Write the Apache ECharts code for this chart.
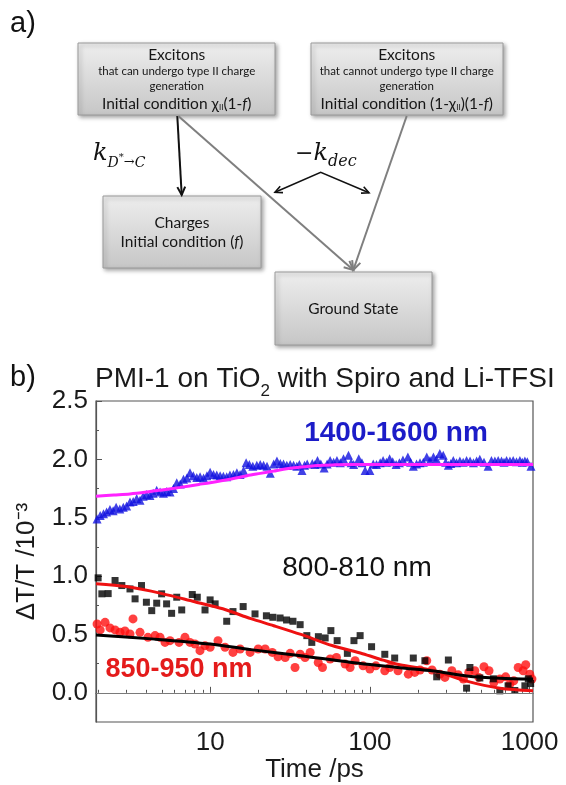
<!DOCTYPE html>
<html><head><meta charset="utf-8">
<script src="https://cdn.jsdelivr.net/npm/echarts@6/dist/echarts.min.js"></script>
<style>html,body{margin:0;padding:0;background:#fff}#c{width:566px;height:785px}</style>
</head><body><div id="c"></div>
<script>
// ---------------- DATA ----------------
const xTickLabels = [10, 100, 1000];
const xMinorTicks = [2,3,4,5,6,7,8,9,20,30,40,50,60,70,80,90,200,300,400,500,600,700,800,900];
const yTickLabels = [0, 0.5, 1.0, 1.5, 2.0, 2.5];
const yMinorTicks = [0.25, 0.75, 1.25, 1.75, 2.25];

// 1400-1600 nm (blue triangles)
const blueT = [1.96,2.05,2.15,2.25,2.36,2.47,2.58,2.72,2.86,3.0,3.15,3.3,3.47,3.64,3.81,4.0,4.2,4.4,4.63,4.86,5.1,5.35,5.61,5.9,6.18,6.5,6.81,7.15,7.48,7.85,8.25,8.65,9.1,9.55,10.0,10.5,11.0,11.55,12.1,12.7,13.3,14.0,14.7,15.4,16.2,16.8,17.6,18.5,19.6,20.6,21.6,22.7,23.8,25.0,26.2,27.5,28.8,30.2,31.7,33.3,34.9,36.2,37.6,39.0,40.5,43.6,45.3,47.0,49.3,51.7,54.0,56.4,59.3,62.2,65.3,68.4,73.5,76.3,79.1,85.2,89.2,93.4,100,105,110,116,121,127,133,139,146,153,161,173,180,187,196,206,216,227,238,250,261,274,288,298,310,321,333,349,366,384,403,424,445,466,488,518,550,577,606,636,667,691,717,753,789,828,869,900,934,967,1020];
const blueV = [1.49,1.52,1.535,1.55,1.57,1.56,1.59,1.575,1.59,1.6,1.635,1.64,1.665,1.65,1.685,1.70,1.69,1.71,1.735,1.72,1.71,1.725,1.72,1.75,1.80,1.79,1.83,1.84,1.885,1.86,1.845,1.85,1.84,1.86,1.89,1.87,1.865,1.86,1.855,1.85,1.865,1.87,1.885,1.87,1.905,1.97,1.955,1.94,1.95,1.955,1.95,1.94,1.88,1.96,1.985,1.965,1.96,1.95,1.955,1.95,1.94,1.955,1.905,1.95,1.96,1.965,1.955,1.99,1.96,1.925,1.96,1.99,1.975,1.99,1.97,2.005,2.035,1.97,1.955,2.005,1.97,1.905,1.905,1.96,1.955,1.97,1.99,1.975,2.005,1.98,1.955,1.97,1.995,2.02,1.975,1.94,1.96,1.97,1.975,2.02,1.99,2.02,2.0,2.05,2.035,1.975,1.95,1.965,1.99,1.97,1.985,1.975,1.99,1.985,1.97,1.985,2.0,1.975,1.94,1.99,1.985,1.99,1.985,1.975,1.99,1.985,1.99,1.98,1.99,1.975,1.985,1.98,1.94];
// fit (magenta)
const magFitT = [1.93,2.5,3.15,4,5,6.5,8.5,10,13.3,17,20.6,25,28.8,35,47,60,80,120,200,400,700,1050];
const magFitV = [1.685,1.695,1.704,1.72,1.738,1.76,1.785,1.80,1.83,1.86,1.88,1.90,1.915,1.93,1.948,1.953,1.955,1.955,1.955,1.955,1.955,1.955];

// 800-810 nm (black squares)
const sqT = [1.99,2.10,2.30,2.54,2.80,3.15,3.39,3.72,3.99,4.31,4.63,4.97,5.34,5.74,6.18,6.64,7.73,8.31,9.29,10.0,10.75,12.7,13.9,16.1,19.1,22.5,24.7,27.4,30.1,33.0,36.6,40.3,43.3,47.6,52.5,57.0,62.4,72.3,79.5,86.9,102.5,124,143,187,221,262,310,403,423,488,593,651,733,808,934,981,1015];
const sqV = [0.985,0.848,0.85,0.962,0.919,0.89,0.805,0.919,0.776,0.704,0.768,0.848,0.762,0.681,0.819,0.71,0.842,0.819,0.71,0.796,0.762,0.613,0.696,0.739,0.676,0.66,0.647,0.641,0.624,0.613,0.584,0.49,0.432,0.481,0.47,0.533,0.447,0.338,0.447,0.49,0.395,0.33,0.298,0.298,0.275,0.137,0.281,0.04,0.217,0.127,0.12,0.017,0.06,0.02,0.06,0.12,0.08];
// fit (red line)
const redFitT = [1.93,3,5,8,12,18,25,37,58,90,121,154,250,403,651,1050];
const redFitV = [0.935,0.91,0.85,0.78,0.72,0.635,0.575,0.5,0.405,0.335,0.28,0.24,0.19,0.10,0.04,0.018];

// 850-950 nm (red circles)
const cirT = [1.96,2.05,2.20,2.36,2.54,2.73,2.93,3.15,3.29,3.64,4.08,4.52,4.86,5.22,5.61,6.39,6.96,7.48,8.04,8.64,9.29,10.0,11.2,12.4,13.9,15.4,17.8,20.0,22.1,24.5,26.6,29.5,31.7,34.0,36.6,39.3,42.3,47.5,50.5,56.4,61.8,70.0,75.2,80.8,90.7,100,109,124,133,150,174,191,206,227,245,274,295,326,357,385,416,454,481,518,557,597,651,708,752,796,848,911,946,1003,1034];
const cirV = [0.59,0.539,0.604,0.556,0.539,0.518,0.53,0.504,0.633,0.518,0.475,0.49,0.475,0.432,0.447,0.432,0.475,0.432,0.418,0.361,0.404,0.39,0.447,0.39,0.346,0.375,0.346,0.375,0.375,0.346,0.309,0.303,0.338,0.217,0.33,0.303,0.346,0.26,0.217,0.29,0.303,0.246,0.217,0.275,0.231,0.203,0.231,0.189,0.217,0.189,0.16,0.175,0.195,0.275,0.195,0.16,0.132,0.189,0.155,0.118,0.175,0.189,0.132,0.223,0.189,0.088,0.118,0.137,0.074,0.103,0.217,0.189,0.24,0.16,0.118];
// fit (black line)
const blkFitT = [1.93,4.5,10,18,37,75,154,250,403,651,1050];
const blkFitV = [0.496,0.46,0.418,0.37,0.318,0.262,0.215,0.187,0.145,0.125,0.118];

// texts
const titleParts = ['PMI-1 on TiO', '2', ' with Spiro and Li-TFSI'];
const xName = 'Time /ps';
const yName = '\u0394T/T /10\u207B\u00B3';
const seriesLabels = ['1400-1600 nm', '800-810 nm', '850-950 nm'];

// ---------------- HELPERS ----------------
const zip = (a, b) => a.map((v, i) => [v, b[i]]);
const mctx = document.createElement('canvas').getContext('2d');
function tw(s, font) { mctx.font = font; return mctx.measureText(s).width; }
const G = [];
function txt(x, y, s, font, fill, align) {
  G.push({type: 'text', x: x, y: y, silent: true, z: 10,
    style: {text: s, font: font, fill: fill || '#161616', align: align || 'left', verticalAlign: 'middle'}});
}
// sequential text parts: [text, font, yOffset]
function seq(cx, cy, parts, fill, align) {
  let total = 0; parts.forEach(p => total += tw(p[0], p[1]));
  let x = align === 'left' ? cx : cx - total / 2;
  parts.forEach(p => { txt(x, cy + (p[2] || 0), p[0], p[1], fill, 'left'); x += tw(p[0], p[1]); });
}
function box(x, y, w, h) {
  G.push({type: 'rect', silent: true, z: 5, shape: {x: x, y: y, width: w, height: h},
    style: {fill: {type: 'linear', x: 0, y: 0, x2: 0, y2: 1, colorStops: [{offset: 0, color: '#eeeeee'}, {offset: 1, color: '#c6c6c6'}]},
      stroke: '#9a9a9a', lineWidth: 1, shadowBlur: 4, shadowOffsetX: 2, shadowOffsetY: 2, shadowColor: 'rgba(0,0,0,0.35)'}});
}
function arrowHead(x1, y1, x2, y2, color, lw, L) {
  const a = Math.atan2(y2 - y1, x2 - x1), th = 0.45;
  G.push({type: 'polyline', silent: true, z: 6, shape: {points: [[x2 - L * Math.cos(a - th), y2 - L * Math.sin(a - th)], [x2, y2], [x2 - L * Math.cos(a + th), y2 - L * Math.sin(a + th)]]},
    style: {stroke: color, lineWidth: lw, fill: null}});
}
function line(pts, color, lw) {
  G.push({type: 'polyline', silent: true, z: 6, shape: {points: pts}, style: {stroke: color, lineWidth: lw, fill: null}});
}

// ---------------- DIAGRAM (a) ----------------
const F = "'Lato', 'Open Sans', sans-serif";
const big = '15.5px ' + F, small = '11.5px ' + F, tiny = '8px ' + F, bigI = 'italic 15.5px ' + F;
txt(10, 24, 'a)', '29px "Liberation Sans", Arial, sans-serif', '#111');
box(78, 43, 197, 72);
box(311, 43, 192, 72);
box(103, 196, 158, 72);
box(275, 272, 157, 73);
seq(176.7, 55, [['Excitons', big]]);
seq(176.7, 71.5, [['that can undergo type II charge', small]]);
seq(176.7, 86.5, [['generation', small]]);
seq(176.7, 104, [['Initial condition \u03C7', big], ['II', tiny, 3], ['(1-', big], ['f', bigI], [')', big]]);
seq(406.7, 55, [['Excitons', big]]);
seq(406.7, 71.5, [['that cannot undergo type II charge', small]]);
seq(406.7, 86.5, [['generation', small]]);
seq(406.7, 104, [['Initial condition (1-\u03C7', big], ['II', tiny, 3], [')(1-', big], ['f', bigI], [')', big]]);
seq(182, 222.5, [['Charges', big]]);
seq(182, 241.5, [['Initial condition (', big], ['f', bigI], [')', big]]);
seq(353.3, 309, [['Ground State', big]]);
// arrows
line([[177.3, 116], [181.7, 195]], '#111', 2); arrowHead(177.3, 116, 181.7, 195, '#111', 2, 9);
line([[178.3, 116], [353.3, 270]], '#7f7f7f', 2); arrowHead(178.3, 116, 353.3, 270, '#7f7f7f', 2, 10);
line([[406.7, 116], [353.3, 270]], '#7f7f7f', 2); arrowHead(406.7, 116, 353.3, 270, '#7f7f7f', 2, 10);
line([[275, 192.3], [320.7, 172.3], [369, 192.7]], '#111', 1.6);
arrowHead(320.7, 172.3, 275, 192.3, '#111', 1.6, 8);
arrowHead(320.7, 172.3, 369, 192.7, '#111', 1.6, 8);
const MF = "'DejaVu Serif', 'Liberation Serif', serif";
seq(93, 154, [['k', 'italic 24px ' + MF], ['D', 'italic 14px ' + MF, 9], ['*', '10px ' + MF, 3], ['\u2192', '13px ' + MF, 9], ['C', 'italic 14px ' + MF, 9]], '#111', 'left');
seq(295, 154, [['\u2212', '22px ' + MF], ['k', 'italic 24px ' + MF], ['dec', 'italic 16px ' + MF, 8]], '#111', 'left');

// ---------------- PLOT (b) ----------------
const AF = '"Liberation Sans", Arial, sans-serif';
txt(10, 378, 'b)', '29px ' + AF, '#111');
seq(95, 379, [[titleParts[0], '28px ' + AF], [titleParts[1], '17px ' + AF, 12], [titleParts[2], '28px ' + AF]], '#1a1a1a', 'left');
txt(396, 433, seriesLabels[0], 'bold 28px ' + AF, '#1c1cc8', 'center');
txt(357, 568, seriesLabels[1], '28px ' + AF, '#111', 'center');
txt(179, 670, seriesLabels[2], 'bold 27px ' + AF, '#e41b1b', 'center');

const axisCol = '#555';
const labelStyle = {fontSize: 26, color: '#1a1a1a', fontFamily: AF};
const chart = echarts.init(document.getElementById('c'), null, {renderer: 'canvas'});
chart.setOption({
  animation: false,
  backgroundColor: '#fff',
  grid: {left: 96, right: 33, top: 401, bottom: 63, show: true, borderColor: axisCol, borderWidth: 1.2, containLabel: false, outerBoundsMode: 'none'},
  xAxis: [{
    type: 'log', logBase: 10, min: 1.93, max: 1050, position: 'bottom',
    axisLine: {show: true, lineStyle: {color: axisCol, width: 1.2}},
    axisTick: {show: true, inside: true, length: 6, customValues: xTickLabels, lineStyle: {color: axisCol}},
    axisLabel: Object.assign({customValues: xTickLabels, margin: 8, formatter: v => String(Math.round(v))}, labelStyle),
    splitLine: {show: false}, minorTick: {show: false},
    name: xName, nameLocation: 'middle', nameGap: 34, nameTextStyle: labelStyle
  }, {
    type: 'log', logBase: 10, min: 1.93, max: 1050, position: 'bottom', offset: 0,
    axisLine: {show: false}, axisLabel: {show: false}, splitLine: {show: false},
    axisTick: {show: true, inside: true, length: 3, customValues: xMinorTicks, lineStyle: {color: axisCol}}
  }],
  yAxis: [{
    type: 'value', min: -0.25, max: 2.5, position: 'left',
    axisLine: {show: true, lineStyle: {color: axisCol, width: 1.2}},
    axisTick: {show: true, inside: true, length: 6, customValues: yTickLabels, lineStyle: {color: axisCol}},
    axisLabel: Object.assign({customValues: yTickLabels, margin: 8, formatter: v => v.toFixed(1)}, labelStyle),
    splitLine: {show: false},
    name: yName, nameLocation: 'middle', nameGap: 56, nameRotate: 90, nameTextStyle: labelStyle
  }, {
    type: 'value', min: -0.25, max: 2.5, position: 'left', offset: 0,
    axisLine: {show: false}, axisLabel: {show: false}, splitLine: {show: false},
    axisTick: {show: true, inside: true, length: 3, customValues: yMinorTicks, lineStyle: {color: axisCol}}
  }],
  series: [
    {type: 'scatter', name: seriesLabels[0], data: zip(blueT, blueV), symbol: 'triangle', symbolSize: 9,
     itemStyle: {color: '#1212e0'}, z: 2,
     markLine: {silent: true, symbol: ['none', 'none'], label: {show: false}, data: [{yAxis: 0}],
       lineStyle: {color: '#7a7a7a', width: 1.2, type: 'solid'}}},
    {type: 'line', data: zip(magFitT, magFitV), smooth: 0.3, showSymbol: false, lineStyle: {color: '#ff22ff', width: 3}, z: 3},
    {type: 'scatter', name: seriesLabels[2], data: zip(cirT, cirV), symbol: 'circle', symbolSize: 9, itemStyle: {color: '#ff1010'}, z: 2},
    {type: 'scatter', name: seriesLabels[1], data: zip(sqT, sqV), symbol: 'rect', symbolSize: 7, itemStyle: {color: '#000'}, z: 2},
    {type: 'line', data: zip(redFitT, redFitV), smooth: 0.3, showSymbol: false, lineStyle: {color: '#ee1111', width: 3}, z: 3},
    {type: 'line', data: zip(blkFitT, blkFitV), smooth: 0.3, showSymbol: false, lineStyle: {color: '#000', width: 3}, z: 3}
  ],
  graphic: G
});
</script></body></html>
